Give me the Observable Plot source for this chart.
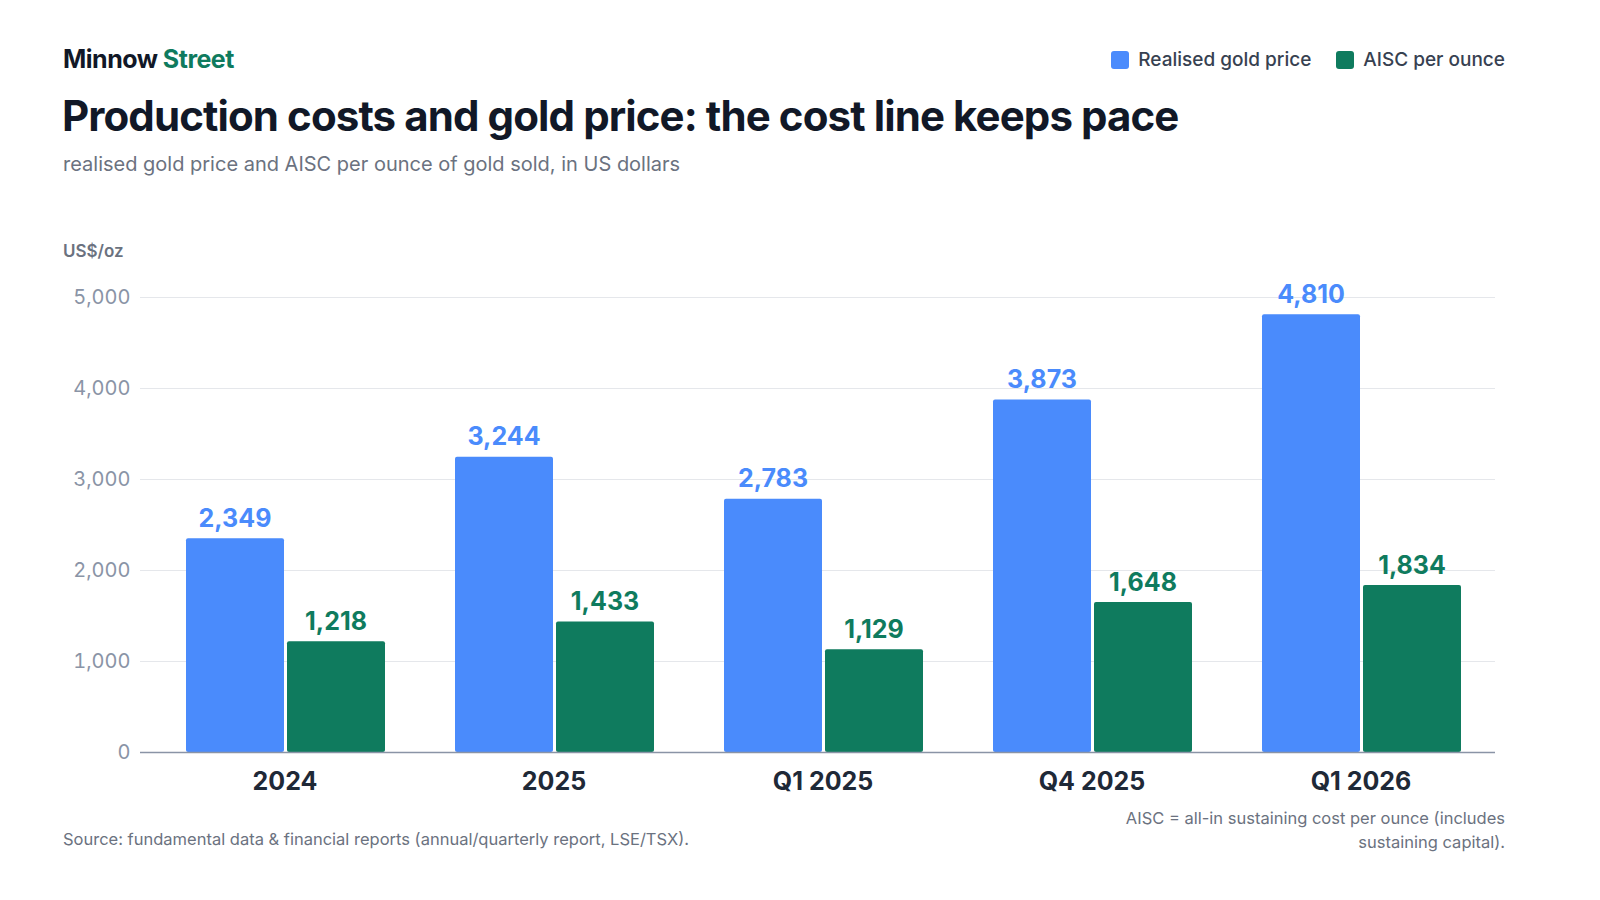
<!DOCTYPE html>
<html><head><meta charset="utf-8">
<script src="https://cdn.jsdelivr.net/npm/d3@7"></script>
<script src="https://cdn.jsdelivr.net/npm/@observablehq/plot@0.6"></script>
<style>
body{margin:0;background:#fff;font-family:Inter,"Noto Sans",sans-serif;}
#wrap{position:relative;width:1600px;height:900px;}
.a{position:absolute;white-space:nowrap;}
#chart{position:absolute;left:0;top:200px;}
.sw{display:inline-block;width:18px;height:18px;border-radius:3px;vertical-align:-3px;margin-right:9px;}
</style></head><body>
<div id="wrap">
<div class="a" style="left:63px;top:44px;font-size:25px;font-weight:700;color:#111827;letter-spacing:-0.5px">Minnow <span style="color:#0f7b5e">Street</span></div>
<div class="a" style="right:95px;top:48px;font-size:19px;font-weight:500;color:#374151"><span class="sw" style="background:#4a8bfc"></span>Realised gold price<span style="display:inline-block;width:25px"></span><span class="sw" style="background:#0f7b5e"></span>AISC per ounce</div>
<div class="a" style="left:62px;top:90px;font-size:42px;font-weight:700;color:#111827;letter-spacing:-0.9px">Production costs and gold price: the cost line keeps pace</div>
<div class="a" style="left:63px;top:152px;font-size:20px;color:#6b7280">realised gold price and AISC per ounce of gold sold, in US dollars</div>
<div class="a" style="left:63px;top:241px;font-size:17px;font-weight:600;color:#6b7280">US$/oz</div>
<div id="chart"></div>
<div class="a" style="left:63px;top:829px;font-size:16.5px;color:#6b7280">Source: fundamental data &amp; financial reports (annual/quarterly report, LSE/TSX).</div>
<div class="a" style="right:95px;top:806px;font-size:16.5px;color:#6b7280;text-align:right;line-height:24px">AISC = all-in sustaining cost per ounce (includes<br>sustaining capital).</div>
</div>
<script>
const categories = ["2024","2025","Q1 2025","Q4 2025","Q1 2026"];
const goldPrice = [2349,3244,2783,3873,4810];
const aisc = [1218,1433,1129,1648,1834];
const yTicks = [0,1000,2000,3000,4000,5000];

const dP = categories.map((c,i)=>({c,v:goldPrice[i]}));
const dA = categories.map((c,i)=>({c,v:aisc[i]}));
const fmt = d3.format(",");
const blue="#4a8bfc", green="#0f7b5e";

const plot = Plot.plot({
  width:1600, height:620,
  marginLeft:140, marginRight:105, marginTop:97, marginBottom:68,
  style:{fontFamily:"Inter, sans-serif"},
  x:{domain:categories, padding:0, insetLeft:10, label:null},
  y:{domain:[0,5000], label:null},
  marks:[
    Plot.ruleY(yTicks.slice(1),{stroke:"#e5e7eb",strokeWidth:1}),
    Plot.axisY({ticks:yTicks, tickFormat:fmt, tickSize:0, tickPadding:10, fontSize:20, fill:"#8a94a6", label:null}),
    Plot.axisX({tickSize:0, tickPadding:20, fontSize:25, fontWeight:700, fill:"#1f2937", label:null}),
    Plot.barY(dP,{x:"c",y:"v",fill:blue,insetLeft:36,insetRight:135,rx:2}),
    Plot.barY(dA,{x:"c",y:"v",fill:green,insetLeft:137,insetRight:34,rx:2}),
    Plot.ruleY([0],{stroke:"#8a94a6",strokeWidth:1.5}),
    Plot.text(dP,{x:"c",y:"v",text:d=>fmt(d.v),dx:-50,dy:-12,lineAnchor:"bottom",fill:blue,fontSize:25,fontWeight:700}),
    Plot.text(dA,{x:"c",y:"v",text:d=>fmt(d.v),dx:51,dy:-12,lineAnchor:"bottom",fill:green,fontSize:25,fontWeight:700})
  ]
});
document.getElementById("chart").appendChild(plot);
</script>
</body></html>
